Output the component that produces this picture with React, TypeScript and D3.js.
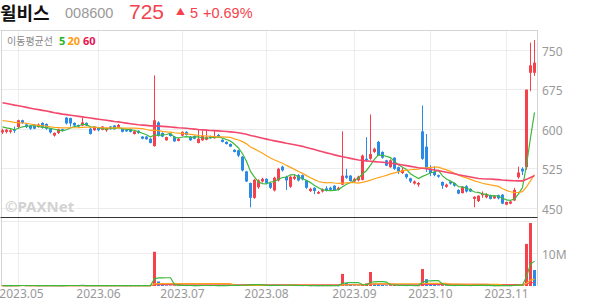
import React from 'react';
import * as d3 from 'd3';

// ---- data ----
const tradingDays: [string, number[]][] = [
  ['2023.04', [25, 26, 27, 28]],
  ['2023.05', [2, 3, 4, 8, 9, 10, 11, 12, 15, 16, 17, 18, 19, 22, 23, 24, 25, 26, 30, 31]],
  ['2023.06', [1, 2, 5, 7, 8, 9, 12, 13, 14, 15, 16, 19, 20, 21, 22, 23, 26, 27, 28, 29, 30]],
  ['2023.07', [3, 4, 5, 6, 7, 10, 11, 12, 13, 14, 17, 18, 19, 20, 21, 24, 25, 26, 27, 28, 31]],
  ['2023.08', [1, 2, 3, 4, 7, 8, 9, 10, 11, 14, 16, 17, 18, 21, 22, 23, 24, 25, 28, 29, 30, 31]],
  ['2023.09', [1, 4, 5, 6, 7, 8, 11, 12, 13, 14, 15, 18, 19, 20, 21, 22, 25, 26, 27]],
  ['2023.10', [4, 5, 6, 10, 11, 12, 13, 16, 17, 18, 19, 20, 23, 24, 25, 26, 27, 30, 31]],
  ['2023.11', [1, 2, 3, 6, 7, 8, 9, 10]],
];

// closes before the visible window (used only for moving averages)
const priorCloses = [
  680, 685, 690, 688, 695, 700, 692, 686, 690, 684, 678, 682, 688, 680, 676, 672, 678, 670, 668, 672,
  665, 660, 668, 664, 666, 660, 668, 665, 660, 660, 665, 660, 655, 650,
  622, 618, 625, 620, 615, 612,
  615, 620, 625, 628, 622, 618, 624, 630, 626, 620, 615, 618, 612, 608, 610,
  608, 604, 606, 602,
];

// [open, high, low, close]
const candles: [number, number, number, number][] = [
  [593, 600, 590, 597], [594, 600, 591, 598], [594, 599, 591, 597], [598, 604, 592, 596],
  [603, 617, 601, 616], [616, 617, 609, 611], [608, 609, 601, 603], [606, 607, 598, 600], [608, 609, 599, 600],
  [603, 610, 602, 608], [611, 612, 600, 602], [609, 610, 598, 600], [600, 601, 591, 593], [587, 593, 585, 592],
  [592, 600, 590, 599], [599, 600, 595, 596], [621, 622, 608, 610], [620, 621, 604, 610], [611, 612, 605, 606],
  [607, 608, 603, 604], [606, 621, 605, 612], [611, 612, 605, 606], [600, 602, 589, 590], [597, 605, 596, 604],
  [602, 603, 595, 597], [598, 605, 597, 604], [597, 602, 594, 601], [604, 605, 598, 599], [606, 607, 598, 599],
  [602, 609, 601, 607], [600, 601, 593, 594], [598, 600, 594, 595], [599, 600, 593, 594], [590, 596, 589, 595],
  [596, 597, 590, 592], [585, 586, 580, 581], [585, 586, 579, 580], [581, 582, 572, 573], [567, 701, 566, 616],
  [612, 614, 585, 587], [592, 593, 584, 585], [578, 585, 577, 584], [590, 591, 585, 586], [585, 586, 575, 576],
  [577, 583, 576, 581],
  [587, 595, 586, 594], [594, 595, 587, 588], [585, 586, 577, 578], [586, 587, 580, 581], [573, 598, 572, 581],
  [578, 596, 577, 586], [579, 596, 578, 584], [586, 587, 581, 582], [582, 596, 581, 586], [588, 590, 583, 584],
  [579, 580, 574, 575], [575, 576, 570, 571], [571, 572, 565, 566], [560, 561, 555, 556], [559, 560, 546, 549],
  [547, 548, 519, 521], [519, 520, 499, 500], [497, 498, 451, 469], [469, 505, 467, 503], [489, 504, 486, 502],
  [500, 507, 498, 505],
  [505, 506, 495, 497], [497, 498, 486, 488], [483, 509, 481, 507], [502, 526, 500, 524], [528, 530, 519, 521],
  [509, 511, 484, 502], [490, 511, 488, 509], [505, 512, 503, 509], [512, 514, 500, 502], [512, 513, 502, 504],
  [502, 503, 486, 488], [482, 488, 480, 486], [488, 489, 476, 482], [477, 482, 476, 480], [481, 487, 479, 485],
  [487, 491, 481, 483], [488, 490, 482, 484], [492, 493, 482, 483], [484, 490, 483, 488], [494, 595, 493, 511],
  [511, 524, 505, 507], [511, 512, 500, 501],
  [500, 507, 499, 505], [502, 511, 500, 509], [503, 551, 502, 549], [543, 584, 538, 540], [543, 627, 541, 552],
  [556, 564, 554, 562], [575, 577, 548, 549], [556, 557, 543, 545], [540, 541, 529, 530], [527, 542, 526, 540],
  [545, 546, 522, 524], [527, 528, 514, 519], [516, 526, 514, 522], [514, 515, 505, 508], [506, 507, 497, 500],
  [496, 502, 494, 500], [494, 499, 490, 497], [595, 644, 541, 543], [566, 590, 518, 524],
  [524, 531, 510, 516], [518, 529, 510, 512], [512, 513, 507, 509], [499, 500, 486, 492], [490, 496, 488, 494],
  [500, 501, 494, 496], [497, 498, 490, 492], [484, 485, 476, 477], [478, 491, 477, 490], [491, 493, 479, 481],
  [486, 487, 480, 481], [467, 472, 451, 471], [463, 474, 461, 473], [474, 481, 469, 477], [470, 478, 468, 476],
  [474, 475, 466, 467], [468, 473, 467, 472], [474, 475, 466, 468], [475, 476, 457, 458],
  [456, 462, 455, 461], [458, 463, 457, 462], [464, 488, 463, 484], [508, 528, 505, 517], [524, 527, 512, 519],
  [527, 674, 522, 674], [706, 763, 671, 720], [706, 768, 700, 725],
];

// volume in thousands of shares
const volumes = [
  120, 90, 80, 150,
  260, 180, 110, 90, 100, 80, 140, 110, 150, 120, 90, 70, 280, 200, 120, 90, 180, 110, 160, 100,
  90, 110, 80, 100, 90, 120, 100, 80, 90, 110, 90, 160, 120, 180, 10500, 1400, 350, 200, 160, 220, 130,
  150, 120, 140, 110, 200, 180, 160, 110, 140, 100, 180, 160, 170, 200, 250, 400, 450, 500, 380, 250, 150,
  150, 130, 300, 350, 200, 180, 220, 150, 130, 120, 180, 110, 130, 90, 100, 120, 110, 140, 100, 3700, 900, 300,
  200, 180, 300, 800, 4300, 700, 500, 300, 200, 250, 300, 200, 150, 120, 160, 100, 110, 5200, 2100,
  400, 300, 200, 250, 150, 180, 120, 200, 160, 140, 110, 250, 200, 150, 120, 100, 90, 110, 200,
  150, 120, 300, 600, 400, 12900, 19300, 4900,
];

const priceTicks = [450, 525, 600, 675, 750];
const volumeTicks = [10000, 20000];
const maPeriods = [5, 20, 60];
const maColors = ['#3cb83c', '#ffa31a', '#f3476c'];
const legendColors = ['#22b422', '#ff9c0f', '#e8124f'];

const title = { name: '윌비스', code: '008600', price: '725', change: '5', pct: '+0.69%' };

const RED = '#f5414c';
const BLUE = '#2b8ae6';

export default function App() {
  const W = 594, H = 304;
  const left = 0.5, right = 537.5;
  const mainTop = 30, mainBottom = 217.5;
  const volTop = 217.5, volBottom = 286;

  const dates = tradingDays.flatMap(([m, days]) => days.map((d) => `${m}.${String(d).padStart(2, '0')}`));
  const n = dates.length;

  const x = d3.scaleBand<string>().domain(dates).range([left, left + 4 * n]).padding(0);
  const xc = (i: number) => (x(dates[i]) as number) + x.bandwidth() / 2;

  const y = d3.scaleLinear().domain([431.7, 787]).range([mainBottom, mainTop]);
  const yv = d3.scaleLinear().domain([0, 21000]).range([volBottom, volTop]);

  const closes = candles.map((c) => c[3]);
  const all = [...priorCloses, ...closes];
  const P = priorCloses.length;
  const priceMAs = maPeriods.map((p) =>
    closes.map((_, i) => d3.mean(all.slice(i + P - p + 1, i + P + 1)) as number)
  );
  const volMAs = maPeriods.map((p) =>
    volumes.map((_, i) => d3.mean(volumes.slice(Math.max(0, i - p + 1), i + 1)) as number)
  );

  const priceLine = d3.line<number>().x((_, i) => xc(i)).y((v) => y(v));
  const volLine = d3.line<number>().x((_, i) => xc(i)).y((v) => yv(v));

  const monthTicks = tradingDays.slice(1).map(([m]) => {
    const idx = dates.findIndex((d) => d.startsWith(m));
    return { label: m, x: xc(idx) };
  });

  const font = "'Noto Sans CJK KR', 'Noto Sans', sans-serif";
  const axisFont = "'Noto Sans', 'Open Sans', sans-serif";
  const titleFont = "'Liberation Sans', 'Noto Sans', sans-serif";

  return (
    <svg width={W} height={H} style={{ position: 'absolute', left: 0, top: 0, background: '#fff' }}>
      <defs>
        <clipPath id="mainClip">
          <rect x={left} y={mainTop} width={right - left} height={mainBottom - mainTop} />
        </clipPath>
        <clipPath id="volClip">
          <rect x={left} y={volTop} width={right - left} height={volBottom - volTop + 1} />
        </clipPath>
      </defs>

      {/* Title */}
      <text x={0} y={19.5} fontFamily={font} fontSize={18} fontWeight={700} fill="#111">{title.name}</text>
      <text x={65} y={17.5} fontFamily={titleFont} fontSize={14.5} fill="#999">{title.code}</text>
      <text x={129} y={19} fontFamily={titleFont} fontSize={21} fill={RED}>{title.price}</text>
      <text x={176} y={15} fontFamily={font} fontSize={9} fill={RED}>▲</text>
      <text x={190} y={17.5} fontFamily={titleFont} fontSize={14.5} fill={RED}>{title.change}</text>
      <text x={203} y={17.5} fontFamily={titleFont} fontSize={14.5} fill={RED}>{title.pct}</text>

      {/* grid */}
      {priceTicks.map((t) => (
        <line key={'gy' + t} x1={left} x2={right} y1={Math.round(y(t)) + 0.5} y2={Math.round(y(t)) + 0.5} stroke="#ececec" />
      ))}
      {volumeTicks.map((t) => (
        <line key={'gv' + t} x1={left} x2={right} y1={Math.round(yv(t)) + 0.5} y2={Math.round(yv(t)) + 0.5} stroke="#ececec" />
      ))}
      {monthTicks.map((m) => (
        <line key={'gx' + m.label} x1={Math.floor(m.x) + 0.5} x2={Math.floor(m.x) + 0.5} y1={mainTop} y2={volBottom} stroke="#ececec" />
      ))}

      {/* borders */}
      <line x1={left} x2={right} y1={mainTop + 0.5} y2={mainTop + 0.5} stroke="#d4d4d4" />
      <line x1={left + 1} x2={left + 1} y1={mainTop} y2={volBottom} stroke="#d4d4d4" />
      <line x1={right} x2={right} y1={mainTop} y2={volBottom} stroke="#d4d4d4" />

      {/* legend */}
      <text x={7} y={44.5} fontFamily={font} fontSize={10} fill="#888">이동평균선</text>
      <text x={59} y={44.5} fontFamily={axisFont} fontSize={11} fontWeight={700} fill={legendColors[0]}>5</text>
      <text x={67.5} y={44.5} fontFamily={axisFont} fontSize={11} fontWeight={700} fill={legendColors[1]}>20</text>
      <text x={83} y={44.5} fontFamily={axisFont} fontSize={11} fontWeight={700} fill={legendColors[2]}>60</text>

      {/* watermark */}
      <text x={5} y={212} fontFamily={axisFont} fontSize={15} fontWeight={700} fill="#d2d2d2">©PAXNet</text>

      {/* candles */}
      <g clipPath="url(#mainClip)">
        {candles.map(([o, h, l, c], i) => {
          const cx = xc(i);
          const up = c >= o;
          const col = up ? RED : BLUE;
          const top = y(Math.max(o, c));
          const bot = y(Math.min(o, c));
          return (
            <g key={'c' + i}>
              <line x1={cx} x2={cx} y1={y(h)} y2={y(l)} stroke={col} strokeWidth={1} />
              <rect x={cx - 1.5} y={top} width={3} height={Math.max(1, bot - top)} fill={col} />
            </g>
          );
        })}
        {priceMAs.map((vals, k) => (
          <path key={'ma' + k} d={priceLine(vals) || ''} fill="none" stroke={maColors[k]} strokeWidth={k === 2 ? 1.6 : 1.2} />
        ))}
      </g>

      {/* volume */}
      <g clipPath="url(#volClip)">
        {volumes.map((v, i) => {
          const cx = xc(i);
          const up = i === 0 || v >= volumes[i - 1];
          const top = yv(v);
          return (
            <rect key={'v' + i} x={cx - 1.5} y={top} width={3} height={Math.max(0.5, volBottom - top)} fill={up ? RED : BLUE} />
          );
        })}
        {[2, 1, 0].map((k) => (
          <path key={'vma' + k} d={volLine(volMAs[k]) || ''} fill="none" stroke={maColors[k]} strokeWidth={1.2} />
        ))}
      </g>

      {/* separator */}
      <line x1={left} x2={right} y1={mainBottom} y2={mainBottom} stroke="#333" strokeWidth={1} />

      {/* y labels */}
      {priceTicks.map((t) => (
        <text key={'ty' + t} x={542} y={y(t) + 6} fontFamily={axisFont} fontSize={12} fill="#999">{t}</text>
      ))}
      <text x={542} y={yv(10000) + 6} fontFamily={axisFont} fontSize={12} fill="#999">10M</text>

      {/* x labels */}
      {monthTicks.map((m) => {
        const w = 40;
        const cx = Math.max(left + 1 + w / 2, m.x);
        return (
          <text key={'tx' + m.label} x={cx} y={298} textAnchor="middle" fontFamily={axisFont} fontSize={12} fill="#999">{m.label}</text>
        );
      })}
    </svg>
  );
}
